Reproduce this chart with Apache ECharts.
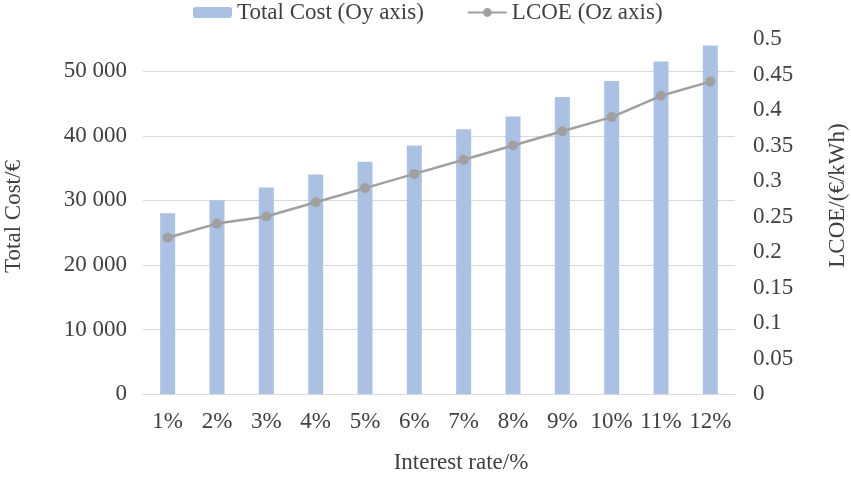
<!DOCTYPE html>
<html><head><meta charset="utf-8">
<script src="https://cdn.jsdelivr.net/npm/echarts@6/dist/echarts.min.js"></script>
<style>html,body{margin:0;padding:0;background:#fff}#c{width:851px;height:480px}</style>
</head><body><div id="c"></div>
<script>
const categories = ['1%','2%','3%','4%','5%','6%','7%','8%','9%','10%','11%','12%'];
const totalCost = [28000,30000,32000,34000,36000,38500,41000,43000,46000,48500,51500,54000];
const lcoe = [0.22,0.24,0.25,0.27,0.29,0.31,0.33,0.35,0.37,0.39,0.42,0.44];
const font = 'Liberation Serif';
const txt = {fontFamily: font, fontSize: 23, color: '#404040'};
const chart = echarts.init(document.getElementById('c'));
chart.setOption({
  animation: false,
  textStyle: {fontFamily: font},
  legend: {
    top: -4, left: 188, itemGap: 43, itemWidth: 39, itemHeight: 11,
    textStyle: txt,
    data: ['Total Cost (Oy axis)', 'LCOE (Oz axis)']
  },
  grid: {left: 143, right: 116, top: 39, bottom: 86, containLabel: false, outerBoundsMode: 'none'},
  xAxis: {
    type: 'category', data: categories,
    name: 'Interest rate/%', nameLocation: 'middle', nameGap: 57,
    nameTextStyle: Object.assign({}, txt, {padding: [0,0,0,44]}),
    axisLine: {lineStyle: {color: '#d9d9d9'}},
    axisTick: {show: false},
    axisLabel: Object.assign({}, txt, {margin: 16, interval: 0})
  },
  yAxis: [{
    type: 'value', min: 0, max: 55000, interval: 10000,
    name: 'Total Cost/€', nameLocation: 'middle', nameGap: 118, nameRotate: 90, nameTextStyle: txt,
    axisLine: {show: false}, axisTick: {show: false},
    axisLabel: Object.assign({}, txt, {margin: 16, showMaxLabel: false,
      formatter: v => v >= 1000 ? (v/1000) + ' 000' : String(v)}),
    splitLine: {lineStyle: {color: ['#d9d9d9','#d9d9d9','#d9d9d9','#d9d9d9','#d9d9d9','#d9d9d9','rgba(0,0,0,0)']}}
  }, {
    type: 'value', min: 0, max: 0.5, interval: 0.05, position: 'right',
    name: 'LCOE/(€/kWh)', nameLocation: 'middle', nameGap: 91, nameRotate: 90,
    nameTextStyle: Object.assign({}, txt, {padding: [0,0,0,42]}),
    axisLine: {show: false}, axisTick: {show: false},
    axisLabel: Object.assign({}, txt, {margin: 18, formatter: v => String(+v.toFixed(2))}),
    splitLine: {show: false}
  }],
  series: [{
    name: 'Total Cost (Oy axis)', type: 'bar', data: totalCost, barWidth: 15,
    itemStyle: {color: '#abc1e3'}
  }, {
    name: 'LCOE (Oz axis)', type: 'line', yAxisIndex: 1, data: lcoe,
    symbol: 'circle', symbolSize: 10,
    lineStyle: {color: '#a0a0a0', width: 2.5},
    itemStyle: {color: '#a0a0a0'}
  }]
});
</script></body></html>
